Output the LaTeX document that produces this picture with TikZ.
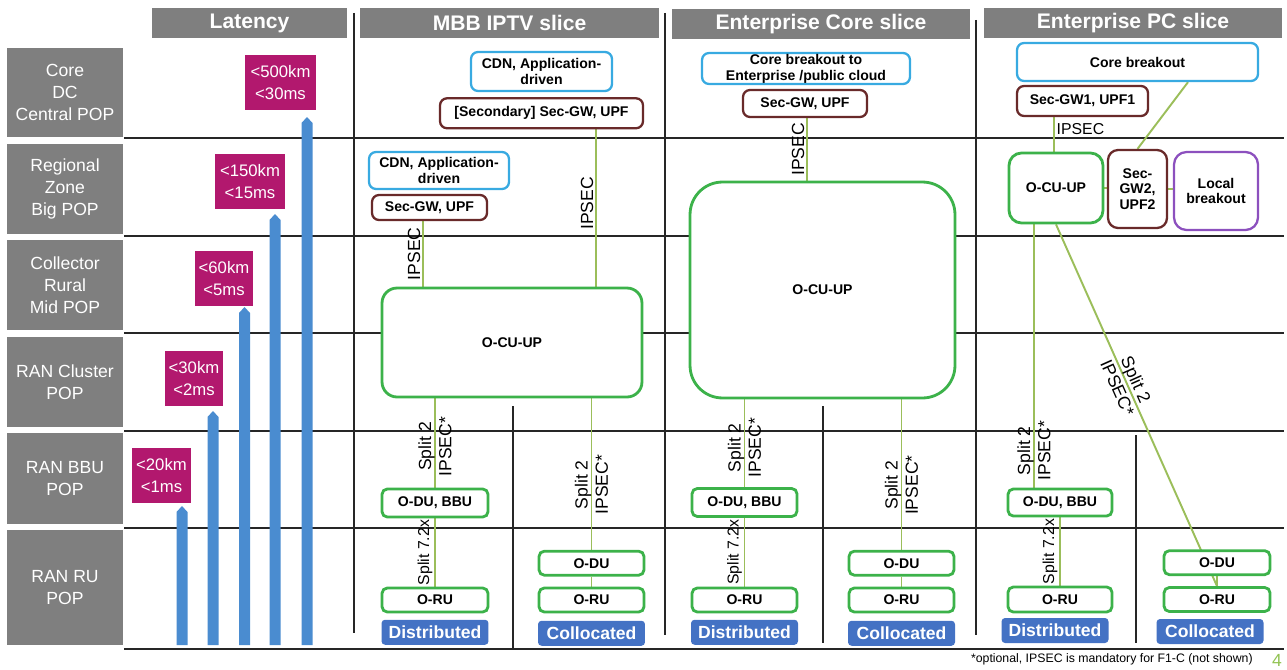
\documentclass[tikz,border=0pt]{standalone}
\usepackage{fontspec}
\setmainfont{Liberation Sans}
\usetikzlibrary{positioning,backgrounds}

\definecolor{hdrgray}{RGB}{127,127,127}
\definecolor{latmag}{RGB}{178,24,110}
\definecolor{barblue}{RGB}{74,140,208}
\definecolor{boxgreen}{RGB}{60,178,74}
\definecolor{linkgreen}{RGB}{155,190,90}
\definecolor{cdncyan}{RGB}{56,170,225}
\definecolor{secbrown}{RGB}{105,42,42}
\definecolor{locpurple}{RGB}{140,80,190}
\definecolor{tagblue}{RGB}{68,114,196}
\definecolor{pagegreen}{RGB}{146,195,83}

\tikzset{
  slicehdr/.style={fill=hdrgray, text=white, font=\bfseries\fontsize{12}{14}\selectfont, minimum height=0.6cm, inner sep=0},
  rowbox/.style={fill=hdrgray, text=white, font=\fontsize{10}{12.5}\selectfont, align=center, minimum width=2.32cm, inner sep=0},
  latbox/.style={fill=latmag, text=white, font=\fontsize{9.5}{12}\selectfont, align=center, minimum height=1.1cm, inner sep=0},
  boxtxt/.style={font=\bfseries\fontsize{8}{9}\selectfont, align=center, inner sep=0, fill=white},
  gbox/.style={boxtxt, draw=boxgreen, line width=1.6pt, rounded corners=3pt},
  cdnbox/.style={boxtxt, draw=cdncyan, line width=1.3pt, rounded corners=4pt},
  secbox/.style={boxtxt, draw=secbrown, line width=1.3pt, rounded corners=4pt},
  locbox/.style={boxtxt, draw=locpurple, line width=1.3pt, rounded corners=0.25cm},
  tagbox/.style={fill=tagblue, text=white, rounded corners=2pt, font=\bfseries\fontsize{10}{12}\selectfont, minimum width=2.14cm, minimum height=0.5cm, inner sep=0},
  lnk/.style={draw=linkgreen, line width=1.1pt},
  lnktxt/.style={font=\fontsize{10}{11.5}\selectfont, inner sep=1pt, align=center},
  lnklbl/.style={lnktxt, rotate=90},
  gridln/.style={draw=black!85, line width=0.7pt}
}

\begin{document}
\begin{tikzpicture}[x=0.02cm, y=-0.02cm]
  \useasboundingbox (0,0) rectangle (1287,669);

  % Column headers
  \node[slicehdr, minimum width=3.9cm]  (hLat)  at (249.5,23) {Latency};
  \node[slicehdr, minimum width=5.98cm] (hMbb)  at (509.5,23) {MBB IPTV slice};
  \node[slicehdr, minimum width=5.96cm] (hCore) at (821,24)   {Enterprise Core slice};
  \node[slicehdr, minimum width=5.96cm] (hPc)   at (1133,23)  {Enterprise PC slice};

  % Row labels
  \node[rowbox, minimum height=1.78cm] (rCore) at (65,92.5)  {Core\\DC\\Central POP};
  \node[rowbox, minimum height=1.8cm]  (rReg)  at (65,189)   {Regional\\Zone\\Big POP};
  \node[rowbox, minimum height=1.8cm]  (rColl) at (65,285)   {Collector\\Rural\\Mid POP};
  \node[rowbox, minimum height=1.8cm]  (rClus) at (65,382)   {RAN Cluster\\POP};
  \node[rowbox, minimum height=1.82cm] (rBbu)  at (65,478.5) {RAN BBU\\POP};
  \node[rowbox, minimum height=2.3cm]  (rRu)   at (65,587.5) {RAN RU\\POP};

  % Latency budget
  \node[latbox, minimum width=1.42cm] (l500) at (280.5,82.5) {<500km\\<30ms};
  \node[latbox, minimum width=1.4cm]  (l150) at (250,181.5)  {<150km\\<15ms};
  \node[latbox, minimum width=1.16cm] (l60)  at (224,278.5)  {<60km\\<5ms};
  \node[latbox, minimum width=1.16cm] (l30)  at (194,378.5)  {<30km\\<2ms};
  \node[latbox, minimum width=1.18cm] (l20)  at (161.5,475.5) {<20km\\<1ms};
  \foreach \bx/\btop in {182/506, 213/411, 244.5/307, 275/214, 307/117}
    \fill[barblue] (\bx-5.5,645) -- (\bx-5.5,\btop+6) -- (\bx,\btop) -- (\bx+5.5,\btop+6) -- (\bx+5.5,645) -- cycle;

  % MBB IPTV slice
  \node[cdnbox, minimum width=2.82cm, minimum height=0.78cm] (mCdnTop) at (541.5,71.5) {CDN, Application-\\driven};
  \node[secbox, minimum width=4.06cm, minimum height=0.6cm, below=0.1cm of mCdnTop] (mSecTop) {[Secondary] Sec-GW, UPF};
  \node[cdnbox, minimum width=2.8cm, minimum height=0.74cm] (mCdnReg) at (439,170.5) {CDN, Application-\\driven};
  \node[secbox, minimum width=2.3cm, minimum height=0.5cm] (mSecReg) at (429.5,207.5) {Sec-GW, UPF};
  \node[gbox, rounded corners=0.3cm, minimum width=5.2cm, minimum height=2.18cm] (mCu) at (512,342.5) {O-CU-UP};
  \node[gbox, minimum width=2.12cm, minimum height=0.56cm] (mDuB) at (435,503) {O-DU, BBU};
  \node[gbox, minimum width=2.12cm, minimum height=0.48cm] (mRuD) at (435,600) {O-RU};
  \node[tagbox, below=0.12cm of mRuD] (mDist) {Distributed};
  \node[gbox, minimum width=2.1cm, minimum height=0.48cm] (mRuC) at (591.5,600) {O-RU};
  \node[gbox, minimum width=2.1cm, minimum height=0.48cm, above=0.2cm of mRuC] (mDuC) {O-DU};
  \node[tagbox, below=0.14cm of mRuC] (mColl) {Collocated};

  % Enterprise Core slice
  \node[cdnbox, minimum width=4.16cm, minimum height=0.62cm] (eBrk) at (806,68.5) {Core breakout to\\Enterprise /public cloud};
  \node[secbox, minimum width=2.48cm, minimum height=0.54cm] (eSec) at (805,103.5) {Sec-GW, UPF};
  \node[gbox, rounded corners=0.65cm, minimum width=5.3cm, minimum height=4.32cm] (eCu) at (822.5,290) {O-CU-UP};
  \node[gbox, minimum width=2.1cm, minimum height=0.56cm] (eDuB) at (744.5,502.5) {O-DU, BBU};
  \node[gbox, minimum width=2.1cm, minimum height=0.48cm] (eRuD) at (744.5,600) {O-RU};
  \node[tagbox, below=0.12cm of eRuD] (eDist) {Distributed};
  \node[gbox, minimum width=2.1cm, minimum height=0.48cm] (eRuC) at (901.5,600) {O-RU};
  \node[gbox, minimum width=2.1cm, minimum height=0.48cm, above=0.2cm of eRuC] (eDuC) {O-DU};
  \node[tagbox, below=0.14cm of eRuC] (eColl) {Collocated};

  % Enterprise PC slice
  \node[cdnbox, minimum width=4.82cm, minimum height=0.76cm] (pBrk) at (1137.5,62) {Core breakout};
  \node[secbox, minimum width=2.62cm, minimum height=0.6cm] (pSec1) at (1082.5,101) {Sec-GW1, UPF1};
  \node[gbox, rounded corners=0.25cm, minimum width=1.88cm, minimum height=1.4cm] (pCu) at (1056,188) {O-CU-UP};
  \node[secbox, rounded corners=0.2cm, minimum width=1.18cm, minimum height=1.56cm] (pSec2) at (1137.5,189) {Sec-\\GW2,\\UPF2};
  \node[locbox, minimum width=1.68cm, minimum height=1.56cm] (pLoc) at (1216,191) {Local\\breakout};
  \node[gbox, minimum width=2.08cm, minimum height=0.54cm] (pDuB) at (1060,502.5) {O-DU, BBU};
  \node[gbox, minimum width=2.08cm, minimum height=0.5cm] (pRuD) at (1060,599.5) {O-RU};
  \node[tagbox] (pDist) at (1055,630.5) {Distributed};
  \node[gbox, minimum width=2.12cm, minimum height=0.48cm] (pRuC) at (1217,599.5) {O-RU};
  \node[gbox, minimum width=2.12cm, minimum height=0.48cm, above=0.2cm of pRuC] (pDuC) {O-DU};
  \node[tagbox] (pColl) at (1210,631.5) {Collocated};

  % Footer
  \node[font=\fontsize{7}{8}\selectfont, anchor=east, inner sep=0] (note) at (1253,659) {*optional, IPSEC is mandatory for F1-C (not shown)};
  \node[font=\fontsize{10}{12}\selectfont, text=pagegreen, inner sep=0] (pgno) at (1277,660) {4};

  \begin{scope}[on background layer]
    % Grid
    \foreach \gy in {138, 236, 333, 431, 528, 649}
      \draw[gridln] (124,\gy) -- (1284,\gy);
    \draw[gridln] (354,13) -- (354,633);
    \draw[gridln] (665,13) -- (665,635);
    \draw[gridln] (976,20) -- (976,635);
    \draw[gridln] (513,406) -- (513,649);
    \draw[gridln] (823,406) -- (823,643);
    \draw[gridln] (1136,435) -- (1136,643);

    % MBB links
    \draw[lnk] (mSecReg.south -| 423,0) -- node[lnklbl, anchor=south] {IPSEC} (mCu.north -| 423,0);
    \draw[lnk] (mSecTop.south -| 596,0) -- node[lnklbl, anchor=south, pos=.47] {IPSEC} (mCu.north -| 596,0);
    \draw[lnk] (mCu.south -| mDuB) -- node[lnklbl, pos=.54] {Split 2\\IPSEC*} (mDuB);
    \draw[lnk] (mDuB) -- node[lnklbl, anchor=south, font=\fontsize{9}{10}\selectfont] {Split 7.2x} (mRuD);
    \draw[lnk] (mCu.south -| mDuC) -- node[lnklbl, pos=.57] {Split 2\\IPSEC*} (mDuC);
    \draw[lnk] (mDuC) -- (mRuC);

    % Enterprise Core links
    \draw[lnk] (eSec.south -| 807,0) -- node[lnklbl, anchor=south] {IPSEC} (eCu.north -| 807,0);
    \draw[lnk] (eCu.south -| eDuB) -- node[lnklbl, pos=.55] {Split 2\\IPSEC*} (eDuB);
    \draw[lnk] (eDuB) -- node[lnklbl, anchor=south, font=\fontsize{9}{10}\selectfont] {Split 7.2x} (eRuD);
    \draw[lnk] (eCu.south -| eDuC) -- node[lnklbl, pos=.57] {Split 2\\IPSEC*} (eDuC);
    \draw[lnk] (eDuC) -- (eRuC);

    % Enterprise PC links
    \draw[lnk] (pSec1.south -| 1054,0) -- node[lnktxt, anchor=west, pos=.35, font=\fontsize{9}{10}\selectfont] {IPSEC} (pCu.north -| 1054,0);
    \draw[lnk] (pBrk.south -| 1188,0) -- (pSec2.north);
    \draw[lnk] (pCu.east) -- (pCu.east -| pSec2.west);
    \draw[lnk] (pSec2.east) -- (pSec2.east -| pLoc.west);
    \draw[lnk] (pCu.south -| 1034,0) -- node[lnklbl, pos=.86] {Split 2\\IPSEC*} (pDuB.north -| 1034,0);
    \draw[lnk] (pCu.south) -- node[lnktxt, sloped, pos=.44] {Split 2\\IPSEC*} (pRuC.north);
    \draw[lnk] (pDuB) -- node[lnklbl, anchor=south, font=\fontsize{9}{10}\selectfont] {Split 7.2x} (pRuD);
    \draw[lnk] (pDuC) -- (pRuC);
  \end{scope}
\end{tikzpicture}
\end{document}
